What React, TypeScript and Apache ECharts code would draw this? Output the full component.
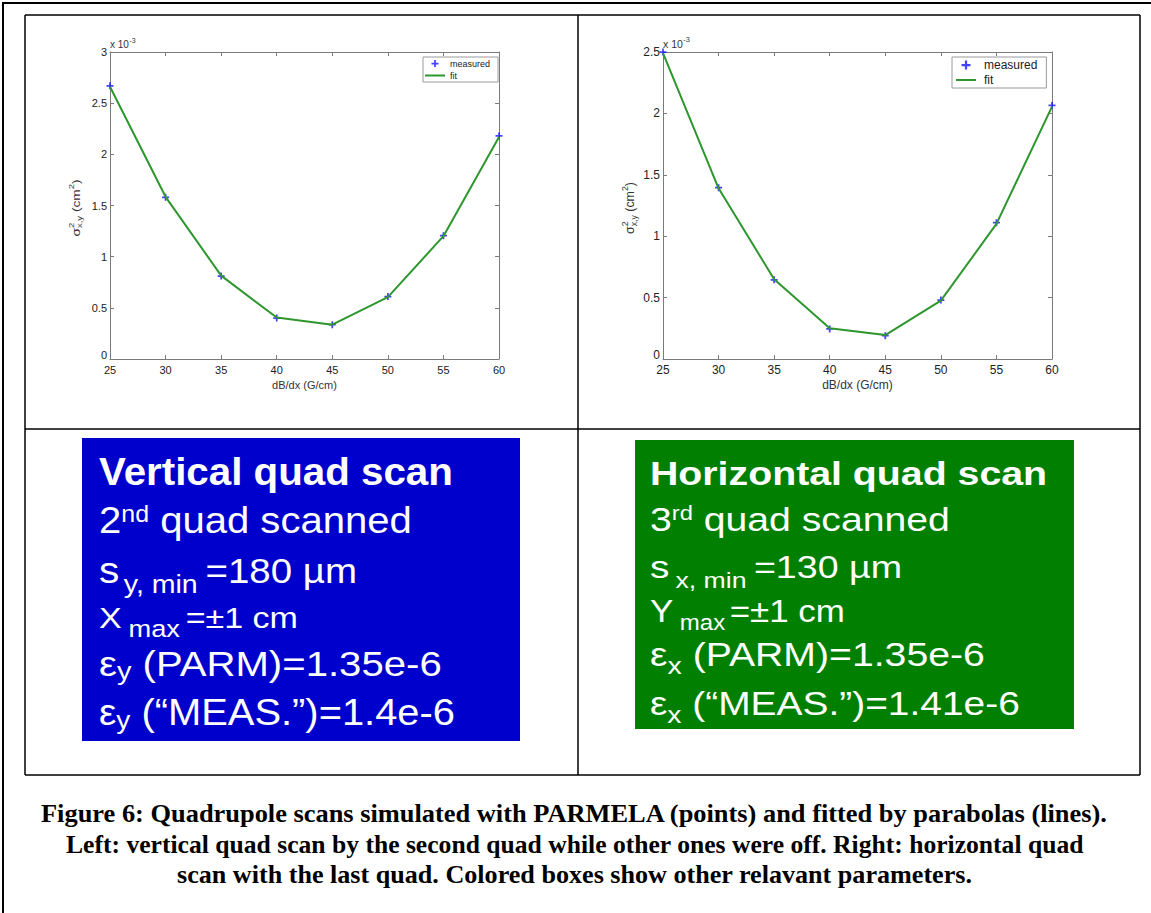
import React, { useEffect, useRef } from 'react';
import * as echarts from 'echarts';

// ---------------- data ----------------
const dBdx = [25, 30, 35, 40, 45, 50, 55, 60];
// values in units of 1e-3 cm^2
const vertMeasured = [2.67, 1.58, 0.81, 0.40, 0.335, 0.61, 1.205, 2.18];
const vertFit = [2.66, 1.585, 0.815, 0.405, 0.335, 0.605, 1.2, 2.17];
const horizMeasured = [2.5, 1.395, 0.645, 0.245, 0.19, 0.48, 1.11, 2.065];
const horizFit = [2.49, 1.39, 0.65, 0.25, 0.195, 0.475, 1.1, 2.055];
const xTickInterval = 5;
const leftYMax = 3;
const rightYMax = 2.5;
const yTickInterval = 0.5;
const legendNames = ['measured', 'fit'];
const xAxisTitle = 'dB/dx (G/cm)';
const captionLines = [
  'Figure 6: Quadrupole scans simulated with PARMELA (points) and fitted by parabolas (lines).',
  'Left: vertical quad scan by the second quad while other ones were off. Right: horizontal quad',
  'scan with the last quad. Colored boxes show other relavant parameters.',
];

// ---------------- helpers ----------------
const FONT = 'Liberation Sans, Arial, sans-serif';
const SERIF = 'Liberation Serif, Times New Roman, serif';
const PLUS = 'path://M3,0H5V3H8V5H5V8H3V5H0V3H3Z';
const LINE_ICON = 'path://M0,4H20V6H0Z';
const K = 0.35;

let mctx: CanvasRenderingContext2D | null = null;
function tw(text: string, size: number, weight = 'normal', family = FONT) {
  if (!mctx) mctx = document.createElement('canvas').getContext('2d');
  mctx!.font = `${weight} ${size}px ${family}`;
  return mctx!.measureText(text).width;
}

type Frag = { t: string; s: number; dy?: number; gap?: number; w?: string };

function textLine(frags: Frag[], x: number, baseline: number, target: number, fill: string, family = FONT, align: 'left' | 'center' = 'left') {
  let cx = 0;
  const children: any[] = [];
  frags.forEach((f, i) => {
    const w = tw(f.t, f.s, f.w || 'normal', family);
    children.push({
      type: 'text',
      x: cx,
      y: (f.dy || 0) - K * f.s,
      style: {
        text: f.t, fontSize: f.s, fontFamily: family, fontWeight: f.w || 'normal', fill,
        align: 'left', verticalAlign: 'middle', textAlign: 'left', textVerticalAlign: 'middle',
      },
    });
    cx += w + (i < frags.length - 1 ? f.gap || 0 : 0);
  });
  const sx = target ? target / cx : 1;
  const gx = align === 'center' ? x - (cx * sx) / 2 : x;
  return { type: 'group', x: gx, y: baseline, scaleX: sx, children };
}

// rotated y-axis title: sigma^2_{x,y} (cm^2)
function yTitle(cx: number, cy: number, f: number, target: number) {
  const small = f * 0.7;
  const items: any[] = [];
  let pos = 0;
  const add = (t: string, s: number, dy: number, advance = true) => {
    items.push({ t, s, dy, x: pos });
    if (advance) pos += tw(t, s);
  };
  add('σ', f, 0);
  const stackX = pos;
  add('2', small, -f * 0.45, false);
  items.push({ t: 'x,y', s: small, dy: f * 0.3, x: stackX });
  pos = stackX + Math.max(tw('2', small), tw('x,y', small));
  add(' (cm', f, 0);
  add('2', small, -f * 0.45);
  add(')', f, 0);
  const sx = target / pos;
  const children = items.map((it) => ({
    type: 'text',
    x: (it.x - pos / 2) * sx,
    y: it.dy,
    scaleX: sx,
    style: {
      text: it.t, fontSize: it.s, fontFamily: FONT, fill: '#333',
      align: 'left', verticalAlign: 'middle', textAlign: 'left', textVerticalAlign: 'middle',
    },
  }));
  return { type: 'group', x: cx, y: cy, rotation: Math.PI / 2, children };
}

function multiplier(x: number, baseline: number, f: number) {
  return textLine(
    [
      { t: 'x 10', s: f, gap: 0.5 },
      { t: '-3', s: f * 0.7, dy: -f * 0.55 },
    ],
    x, baseline, 0, '#333'
  );
}

const axisLine = { show: true, onZero: false, lineStyle: { color: '#7a7a7a', width: 1 } };
const axisTick = { show: true, inside: true, length: 4, lineStyle: { color: '#7a7a7a', width: 1 } };

function xAxes(grid: number, fs: number) {
  return [
    {
      gridIndex: grid, type: 'value', min: 25, max: 60, interval: xTickInterval, position: 'bottom',
      name: xAxisTitle, nameLocation: 'middle', nameGap: 20,
      nameTextStyle: { fontFamily: FONT, fontSize: fs, color: '#333' },
      axisLine, axisTick, splitLine: { show: false },
      axisLabel: { fontFamily: FONT, fontSize: fs, color: '#222', margin: 5 },
    },
    {
      gridIndex: grid, type: 'value', min: 25, max: 60, interval: xTickInterval, position: 'top',
      axisLine, axisTick, splitLine: { show: false }, axisLabel: { show: false },
    },
  ];
}
function yAxes(grid: number, max: number, fs: number) {
  return [
    {
      gridIndex: grid, type: 'value', min: 0, max, interval: yTickInterval, position: 'left',
      axisLine, axisTick, splitLine: { show: false },
      axisLabel: {
        fontFamily: FONT, fontSize: fs, color: '#222', margin: 3,
        formatter: (v: number) => (v === 0 ? '{z|0}' : String(v)),
        rich: { z: { fontFamily: FONT, fontSize: fs, color: '#222', padding: [0, 0, 9, 0] } },
      },
    },
    {
      gridIndex: grid, type: 'value', min: 0, max, interval: yTickInterval, position: 'right',
      axisLine, axisTick, splitLine: { show: false }, axisLabel: { show: false },
    },
  ];
}

function pairs(ys: number[]) {
  return dBdx.map((x, i) => [x, ys[i]]);
}

function seriesFor(xi: number, yi: number, meas: number[], fit: number[]) {
  return [
    {
      name: legendNames[0], type: 'scatter', xAxisIndex: xi, yAxisIndex: yi, data: pairs(meas),
      symbol: PLUS, symbolSize: 7, itemStyle: { color: '#1414ff' }, z: 3,
    },
    {
      name: legendNames[1], type: 'line', xAxisIndex: xi, yAxisIndex: yi, data: pairs(fit),
      symbol: 'none', showSymbol: false, lineStyle: { color: '#2e962e', width: 2 }, itemStyle: { color: '#2e962e' }, z: 4,
    },
  ];
}

function legendAt(left: number, top: number, fs: number, itemHeight: number, gap: number, padding: number[], textPad: number) {
  return {
    orient: 'vertical', left, top, itemWidth: 20, itemHeight, itemGap: gap, padding,
    borderColor: '#9a9a9a', borderWidth: 1, backgroundColor: '#fff', selectedMode: false,
    data: [{ name: legendNames[0], icon: PLUS }, { name: legendNames[1], icon: LINE_ICON }],
    textStyle: { fontFamily: FONT, fontSize: fs, color: '#222', padding: [0, 0, 0, textPad] },
  };
}

function buildOption() {
  const white = '#ffffff';
  const graphic: any[] = [];
  // frames
  const L = (x1: number, y1: number, x2: number, y2: number, w: number) => ({
    type: 'line', shape: { x1, y1, x2, y2 }, style: { stroke: '#000', lineWidth: w }, z: 10,
  });
  graphic.push(L(2, 3, 1151, 3, 2), L(3, 2, 3, 913, 2));
  graphic.push(L(25, 15, 1140, 15, 1.5), L(25, 775, 1140, 775, 1.5), L(25, 15, 25, 775, 1.5), L(1140, 15, 1140, 775, 1.5));
  graphic.push(L(578, 15, 578, 775, 1.5), L(25, 429, 1140, 429, 1.5));

  // colored boxes
  graphic.push({ type: 'rect', shape: { x: 82, y: 438, width: 438, height: 303 }, style: { fill: '#0000cc' } });
  graphic.push({ type: 'rect', shape: { x: 635, y: 440, width: 439, height: 289 }, style: { fill: '#007f00' } });

  // left box text
  graphic.push(textLine([{ t: 'Vertical quad scan', s: 38, w: 'bold' }], 99, 485, 354, white));
  graphic.push(textLine([{ t: '2', s: 37 }, { t: 'nd', s: 23, dy: -11.5 }, { t: ' quad scanned', s: 37 }], 99, 533, 313, white));
  graphic.push(textLine([{ t: 's', s: 37, gap: 4 }, { t: 'y, min', s: 26, dy: 10, gap: 7 }, { t: '=180 µm', s: 35 }], 99, 583, 258, white));
  graphic.push(textLine([{ t: 'X', s: 30, gap: 6 }, { t: 'max', s: 24, dy: 9, gap: 5 }, { t: '=±1 cm', s: 30 }], 99, 628, 199, white));
  graphic.push(textLine([{ t: 'ε', s: 36 }, { t: 'y', s: 26, dy: 4.5 }, { t: ' (PARM)=1.35e-6', s: 36 }], 99, 676, 343, white));
  graphic.push(textLine([{ t: 'ε', s: 36 }, { t: 'y', s: 26, dy: 4.5 }, { t: ' (“MEAS.”)=1.4e-6', s: 37 }], 99, 725, 356, white));

  // right box text
  graphic.push(textLine([{ t: 'Horizontal quad scan', s: 33, w: 'bold' }], 650, 485, 397, white));
  graphic.push(textLine([{ t: '3', s: 33 }, { t: 'rd', s: 20, dy: -11 }, { t: ' quad scanned', s: 33 }], 650, 531, 300, white));
  graphic.push(textLine([{ t: 's', s: 32, gap: 5 }, { t: 'x, min', s: 22, dy: 10, gap: 6 }, { t: '=130 µm', s: 31 }], 650, 578, 252, white));
  graphic.push(textLine([{ t: 'Y', s: 32, gap: 6 }, { t: 'max', s: 22, dy: 8, gap: 4 }, { t: '=±1 cm', s: 32 }], 650, 622, 195, white));
  graphic.push(textLine([{ t: 'ε', s: 33 }, { t: 'x', s: 24, dy: 8 }, { t: ' (PARM)=1.35e-6', s: 33 }], 650, 666.5, 335, white));
  graphic.push(textLine([{ t: 'ε', s: 33 }, { t: 'x', s: 24, dy: 8 }, { t: ' (“MEAS.”)=1.41e-6', s: 33 }], 650, 715, 370, white));

  // y titles and multipliers
  graphic.push(yTitle(76, 208, 11, 57));
  graphic.push(yTitle(630, 208, 12, 52));
  graphic.push(multiplier(110, 48, 10));
  graphic.push(multiplier(663, 48, 10.5));

  // caption
  const capTargets = [1068, 1018, 796];
  const capBase = [823, 854, 884];
  captionLines.forEach((t, i) => {
    graphic.push(textLine([{ t, s: 26, w: 'bold' }], 575, capBase[i], capTargets[i], '#000', SERIF, 'center'));
  });

  return {
    animation: false,
    backgroundColor: '#fff',
    grid: [
      { left: 110, top: 52, width: 389, height: 307 },
      { left: 663, top: 52, width: 389, height: 307 },
    ],
    xAxis: [...xAxes(0, 11), ...xAxes(1, 12)],
    yAxis: [...yAxes(0, leftYMax, 11), ...yAxes(1, rightYMax, 12)],
    legend: [
      legendAt(423, 57, 9, 7, 3, [2, 8, 2, 2], 0),
      legendAt(952, 57, 12, 9, 3, [2, 9, 2, 4], 3),
    ],
    series: [...seriesFor(0, 0, vertMeasured, vertFit), ...seriesFor(2, 2, horizMeasured, horizFit)],
    graphic: { elements: graphic },
  };
}

export default function App() {
  const ref = useRef<HTMLDivElement>(null);
  useEffect(() => {
    document.body.style.margin = '0';
    const chart = echarts.init(ref.current!, null, { renderer: 'svg', width: 1151, height: 913 });
    chart.setOption(buildOption() as any);
    return () => chart.dispose();
  }, []);
  return <div ref={ref} style={{ width: 1151, height: 913, position: 'absolute', left: 0, top: 0 }} />;
}
